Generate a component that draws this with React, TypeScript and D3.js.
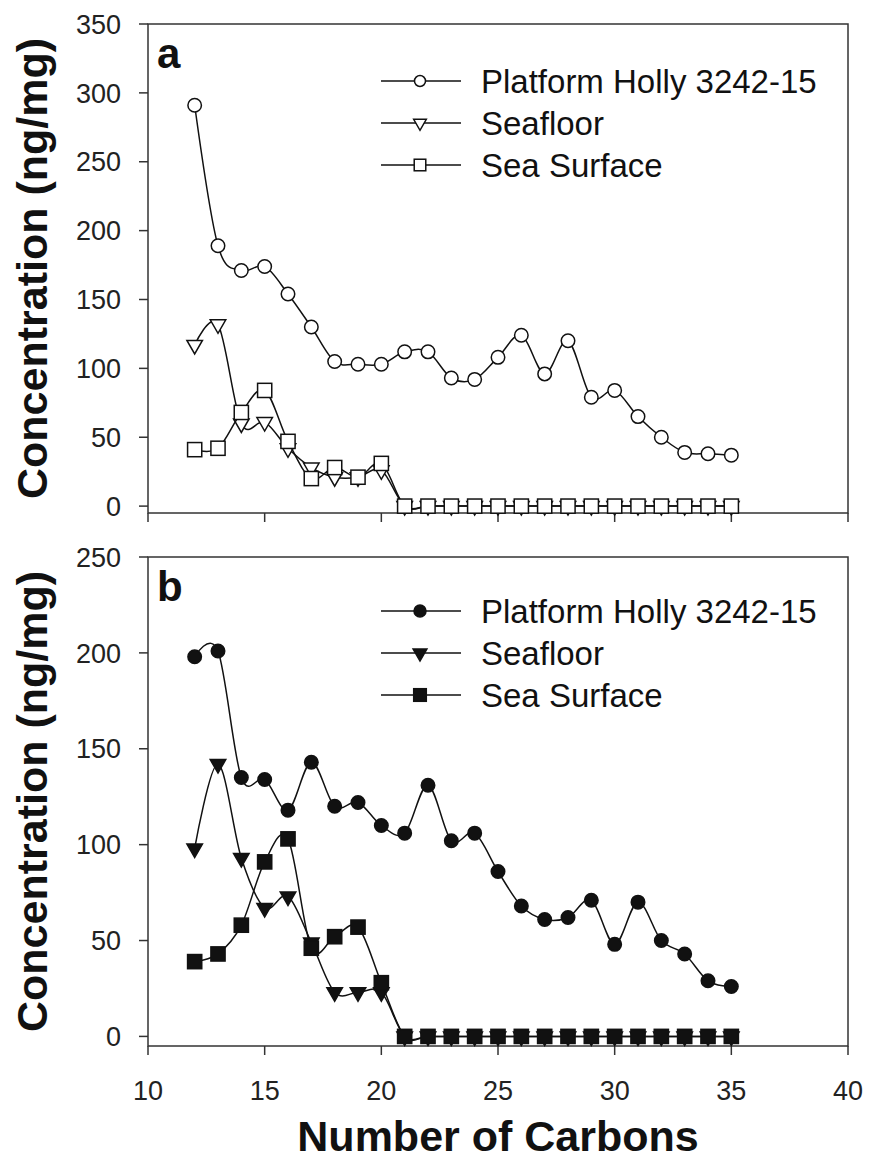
import React from "react";
import * as d3 from "d3";

const carbons = [12, 13, 14, 15, 16, 17, 18, 19, 20, 21, 22, 23, 24, 25, 26, 27, 28, 29, 30, 31, 32, 33, 34, 35];

const hollyA = [291, 189, 171, 174, 154, 130, 105, 103, 103, 112, 112, 93, 92, 108, 124, 96, 120, 79, 84, 65, 50, 39, 38, 37];
const seafloorA = [117, 132, 60, 61, 42, 28, 21, 21, 26, 0, 0, 0, 0, 0, 0, 0, 0, 0, 0, 0, 0, 0, 0, 0];
const surfaceA = [41, 42, 68, 84, 47, 20, 28, 21, 31, 0, 0, 0, 0, 0, 0, 0, 0, 0, 0, 0, 0, 0, 0, 0];

const hollyB = [198, 201, 135, 134, 118, 143, 120, 122, 110, 106, 131, 102, 106, 86, 68, 61, 62, 71, 48, 70, 50, 43, 29, 26];
const seafloorB = [98, 142, 93, 67, 73, 49, 23, 23, 23, 0, 0, 0, 0, 0, 0, 0, 0, 0, 0, 0, 0, 0, 0, 0];
const surfaceB = [39, 43, 58, 91, 103, 46, 52, 57, 28, 0, 0, 0, 0, 0, 0, 0, 0, 0, 0, 0, 0, 0, 0, 0];

const seriesNames = ["Platform Holly 3242-15", "Seafloor", "Sea Surface"];
const xTicks = [10, 15, 20, 25, 30, 35, 40];
const yTicksA = [0, 50, 100, 150, 200, 250, 300, 350];
const yTicksB = [0, 50, 100, 150, 200, 250];

const FONT = "'Liberation Sans', Arial, Helvetica, sans-serif";
const INK = "#111";
const AXIS = "#333";

const x = d3.scaleLinear().domain([10, 40]).range([148, 848]);

type Shape = "circle" | "triangle" | "square";

function Marker({ shape, cx, cy, size, filled }: { shape: Shape; cx: number; cy: number; size: number; filled: boolean }) {
  const fill = filled ? INK : "white";
  if (shape === "circle") {
    return <circle cx={cx} cy={cy} r={size / 2} fill={fill} stroke={INK} strokeWidth={1.5} />;
  }
  if (shape === "square") {
    const s = size * 1.05;
    return <rect x={cx - s / 2} y={cy - s / 2} width={s} height={s} fill={fill} stroke={INK} strokeWidth={1.5} />;
  }
  const w = size * 1.15;
  const h = size * 1.0;
  const p = `M${cx - w / 2},${cy - h / 3}L${cx + w / 2},${cy - h / 3}L${cx},${cy + (2 * h) / 3}Z`;
  return <path d={p} fill={fill} stroke={INK} strokeWidth={1.5} strokeLinejoin="miter" />;
}

function Panel({
  top,
  bottom,
  yMax,
  yTicks,
  data,
  filled,
  letter,
  legendY,
  showXLabels,
}: {
  top: number;
  bottom: number;
  yMax: number;
  yTicks: number[];
  data: number[][];
  filled: boolean;
  letter: string;
  legendY: number;
  showXLabels: boolean;
}) {
  const y = d3.scaleLinear().domain([-5, yMax]).range([bottom, top]);
  const line = d3
    .line<number>()
    .x((_, i) => x(carbons[i]))
    .y((d) => y(d))
    .curve(d3.curveCardinal.tension(0));
  const shapes: Shape[] = ["circle", "triangle", "square"];
  const [x0, x1] = x.range();
  const cy = (top + bottom) / 2;
  return (
    <g>
      {/* frame */}
      <rect x={x0} y={top} width={x1 - x0} height={bottom - top} fill="none" stroke={AXIS} strokeWidth={1.5} />
      {/* y ticks */}
      {yTicks.map((t) => (
        <g key={"y" + t}>
          <line x1={x0 - 9} x2={x0} y1={y(t)} y2={y(t)} stroke={AXIS} strokeWidth={1.5} />
          <text x={121} y={y(t)} dy="0.36em" textAnchor="end" fontFamily={FONT} fontSize={27} fill="#222">
            {t}
          </text>
        </g>
      ))}
      {/* x ticks */}
      {xTicks.map((t) => (
        <g key={"x" + t}>
          <line x1={x(t)} x2={x(t)} y1={bottom} y2={bottom + 9} stroke={AXIS} strokeWidth={1.5} />
          {showXLabels && (
            <text x={x(t)} y={bottom + 54} textAnchor="middle" fontFamily={FONT} fontSize={27} fill="#222">
              {t}
            </text>
          )}
        </g>
      ))}
      {/* y title */}
      <text
        transform={`translate(47,${cy}) rotate(-90)`}
        textAnchor="middle"
        fontFamily={FONT}
        fontWeight="bold"
        fontSize={43}
        fill="#111"
      >
        Concentration (ng/mg)
      </text>
      {/* series */}
      {data.map((vals, si) => (
        <g key={"s" + si}>
          <path d={line(vals) || ""} fill="none" stroke={INK} strokeWidth={1.5} />
          {vals.map((v, i) => (
            <Marker key={i} shape={shapes[si]} cx={x(carbons[i])} cy={y(v)} size={13.5} filled={filled} />
          ))}
        </g>
      ))}
      {/* panel letter */}
      <text x={157} y={top + 44} fontFamily={FONT} fontWeight="bold" fontSize={42} fill="#111">
        {letter}
      </text>
      {/* legend */}
      {seriesNames.map((name, i) => {
        const ly = legendY + i * 42;
        return (
          <g key={"l" + i}>
            <line x1={381} x2={461} y1={ly} y2={ly} stroke={INK} strokeWidth={1.5} />
            <Marker shape={shapes[i]} cx={420} cy={ly} size={filled ? 12 : 11} filled={filled} />
            <text x={481} y={ly} dy="0.36em" fontFamily={FONT} fontSize={33} fill="#111">
              {name}
            </text>
          </g>
        );
      })}
    </g>
  );
}

export default function App() {
  return (
    <svg
      width={870}
      height={1164}
      viewBox="0 0 870 1164"
      style={{ position: "absolute", left: 0, top: 0, background: "white", display: "block" }}
    >
      <rect x={0} y={0} width={870} height={1164} fill="white" />
      <Panel
        top={24}
        bottom={513}
        yMax={350}
        yTicks={yTicksA}
        data={[hollyA, seafloorA, surfaceA]}
        filled={false}
        letter="a"
        legendY={81}
        showXLabels={false}
      />
      <Panel
        top={557}
        bottom={1046}
        yMax={250}
        yTicks={yTicksB}
        data={[hollyB, seafloorB, surfaceB]}
        filled={true}
        letter="b"
        legendY={611}
        showXLabels={true}
      />
      <text x={498} y={1151} textAnchor="middle" fontFamily={FONT} fontWeight="bold" fontSize={43} fill="#111">
        Number of Carbons
      </text>
    </svg>
  );
}
